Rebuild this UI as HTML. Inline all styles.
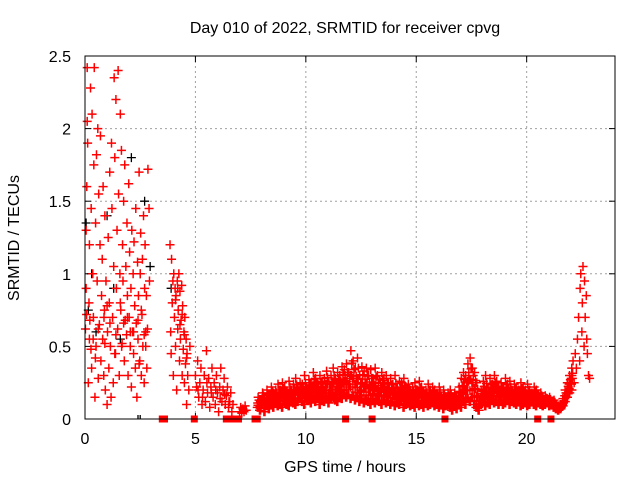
<!DOCTYPE html>
<html><head><meta charset="utf-8"><style>
body{margin:0;background:#fff;}
svg{display:block;font-family:"Liberation Sans",sans-serif;}
</style></head><body>
<svg id="chart" width="640" height="480">
<rect x="0" y="0" width="640" height="480" fill="#fff"/>
<g id="grid"></g>
<g id="ticks"></g>
<g id="pts"></g>
<rect x="85" y="56" width="530" height="363" fill="none" stroke="#000" stroke-width="1"/>
<text x="345" y="33" text-anchor="middle" font-size="16">Day 010 of 2022, SRMTID for receiver cpvg</text>
<text x="345" y="472" text-anchor="middle" font-size="16">GPS time / hours</text>
<text transform="translate(19,238) rotate(-90)" text-anchor="middle" font-size="16">SRMTID / TECUs</text>
</svg>
<script>
const xTicks=[0,5,10,15,20];
const yTicks=[0,0.5,1,1.5,2,2.5];
const yTickLabels=["0","0.5","1","1.5","2","2.5"];
const redT=[0.02,0.05,0.05,0.08,0.1,0.1,0.12,0.15,0.18,0.2,0.2,0.25,0.28,0.3,0.32,0.35,0.38,0.4,0.42,0.45,0.48,0.5,0.52,0.55,0.58,0.6,0.62,0.65,0.68,0.7,0.72,0.75,0.78,0.8,0.82,0.85,0.88,0.9,0.92,0.95,1.0,1.02,1.05,1.08,1.1,1.12,1.15,1.18,1.2,1.22,1.25,1.28,1.3,1.32,1.35,1.38,1.4,1.42,1.45,1.48,1.5,1.52,1.55,1.58,1.6,1.62,1.65,1.68,1.7,1.72,1.75,1.78,1.8,1.82,1.85,1.88,1.9,1.92,1.95,1.98,2.0,2.02,2.05,2.08,2.1,2.12,2.15,2.18,2.2,2.22,2.25,2.28,2.3,2.32,2.35,2.38,2.4,2.42,2.45,2.48,2.5,2.52,2.55,2.58,2.6,2.62,2.65,2.68,2.7,2.72,2.75,2.78,2.8,2.85,2.9,2.92,
0.07,0.22,0.37,0.6,0.86,1.0,1.13,1.4,1.6,1.75,1.92,2.2,2.4,2.55,2.68,2.83,0.27,0.47,0.9,1.35,1.66,2.05,2.45,2.75,
3.85,3.88,3.9,3.92,3.95,3.98,4.0,4.02,4.05,4.08,4.1,4.12,4.15,4.18,4.2,4.22,4.25,4.28,4.3,4.32,4.35,4.38,4.4,4.42,4.45,4.48,4.5,4.52,4.55,4.58,4.6,4.62,4.65,4.7,4.75,4.1,4.2,4.3,4.4,4.5,4.6,
5.0,5.05,5.1,5.15,5.2,5.25,5.3,5.35,5.4,5.45,5.5,5.55,5.6,5.65,5.7,5.75,5.8,5.85,5.9,5.95,6.0,6.05,6.1,6.15,6.2,6.25,6.3,6.35,6.4,6.45,6.5,6.55,6.6,6.65,6.7,5.12,5.32,5.52,5.72,5.92,6.12,6.32,6.52,
7.0,7.05,7.1,7.15,7.2,7.25,7.3,
22.0,22.05,22.1,22.15,22.2,22.25,22.3,22.35,22.4,22.42,22.45,22.5,22.52,22.55,22.6,22.62,22.65,22.7,22.72,22.75,22.8,22.85];
const redV=[0.62,0.9,1.3,1.6,2.05,2.42,1.9,0.25,0.8,1.2,0.55,2.28,1.45,0.35,2.1,1.0,0.7,1.75,2.42,0.15,1.35,0.5,1.82,0.95,2.0,0.28,1.55,0.65,1.2,1.95,0.4,0.85,1.1,0.55,1.6,0.3,0.75,1.4,0.2,0.95,0.1,0.6,1.25,0.35,0.8,1.7,0.5,0.15,1.9,1.45,0.7,0.25,1.05,2.35,1.8,0.45,2.2,0.9,1.3,0.62,2.4,1.55,0.3,1.0,2.1,0.75,1.85,0.52,1.2,0.95,1.5,0.4,1.75,0.68,1.05,0.58,1.35,0.85,0.3,1.62,0.7,1.15,0.5,0.9,0.22,1.3,0.6,1.0,0.45,1.22,0.78,0.35,1.45,0.66,0.15,1.08,0.55,0.85,1.7,0.4,1.0,1.28,0.3,0.72,1.1,0.5,1.4,0.25,0.9,1.2,0.6,0.85,0.35,1.72,1.45,0.95,
0.72,0.68,0.55,0.62,0.7,0.78,0.66,0.58,0.8,0.66,0.7,0.6,0.68,0.75,0.58,0.62,0.48,0.42,0.52,0.45,0.5,0.6,0.38,0.5,
1.2,0.6,0.45,1.1,0.8,0.95,0.3,1.0,0.7,0.9,0.5,0.85,0.2,0.95,0.62,0.75,1.0,0.4,0.88,0.55,0.68,0.92,0.3,0.78,0.48,0.6,0.25,0.7,0.38,0.55,0.1,0.45,0.3,0.2,0.5,0.82,0.9,0.65,0.72,0.58,0.42,
0.3,0.22,0.4,0.15,0.25,0.35,0.1,0.2,0.3,0.12,0.47,0.18,0.28,0.08,0.22,0.35,0.15,0.25,0.1,0.3,0.18,0.05,0.22,0.35,0.12,0.2,0.28,0.1,0.16,0.22,0.08,0.12,0.18,0.05,0.1,0.2,0.15,0.25,0.18,0.2,0.14,0.17,0.12,
0.05,0.08,0.04,0.07,0.05,0.09,0.06,
0.2,0.3,0.4,0.25,0.45,0.35,0.55,0.7,0.4,0.9,1.0,0.6,0.8,1.05,0.5,0.95,0.7,0.85,0.55,0.45,0.3,0.28];
const bandStart=7.8, bandStep=0.1;
const bandLow=[.08,.06,.1,.05,.09,.07,.1,.08,.12,.09,.1,.08,.12,.1,.09,.13,.11,.1,.12,.14,.12,.1,.14,.13,.11,.15,.12,.14,.1,.13,.12,.15,.11,.14,.16,.13,.12,.15,.14,.18,.15,.17,.14,.16,.13,.15,.12,.14,.11,.13,.12,.1,.14,.11,.13,.12,.1,.13,.11,.12,.1,.12,.09,.11,.1,.12,.08,.1,.11,.09,.1,.08,.11,.09,.1,.08,.12,.09,.1,.11,.09,.1,.08,.11,.07,.09,.1,.08,.06,.09,.07,.1,.08,.12,.1,.14,.12,.15,.1,.08,.06,.1,.12,.09,.11,.1,.13,.11,.12,.1,.12,.1,.11,.13,.1,.12,.11,.1,.12,.09,.1,.11,.09,.1,.12,.1,.09,.11,.1,.09,.1,.11,.09,.1,.08,.07,.06,.07,.09,.12,.15,.18,.2];
const bandMid=[.11,.09,.14,.1,.14,.11,.16,.13,.16,.16,.15,.17,.17,.14,.18,.16,.17,.19,.17,.19,.18,.2,.18,.2,.18,.23,.2,.19,.2,.19,.2,.24,.18,.22,.25,.2,.22,.22,.25,.26,.26,.24,.3,.28,.24,.28,.2,.25,.22,.24,.21,.22,.21,.23,.2,.19,.21,.2,.2,.18,.19,.18,.19,.16,.18,.18,.18,.16,.17,.14,.16,.16,.15,.17,.16,.13,.16,.16,.15,.16,.14,.14,.15,.13,.13,.12,.14,.14,.1,.13,.11,.16,.18,.22,.2,.26,.27,.25,.21,.16,.1,.15,.19,.19,.16,.19,.18,.2,.19,.16,.18,.16,.19,.18,.18,.16,.17,.16,.16,.17,.16,.15,.16,.15,.15,.16,.14,.13,.14,.12,.13,.12,.12,.11,.1,.08,.07,.08,.11,.16,.2,.24,.28];
const bandHigh=[.15,.12,.18,.14,.2,.16,.22,.18,.2,.24,.2,.25,.22,.18,.26,.2,.24,.28,.22,.25,.24,.3,.22,.27,.25,.32,.28,.24,.3,.26,.28,.33,.26,.3,.35,.28,.32,.3,.36,.34,.38,.32,.47,.4,.35,.42,.3,.36,.33,.35,.3,.34,.28,.35,.3,.27,.32,.28,.3,.25,.28,.24,.3,.22,.26,.25,.28,.22,.24,.2,.22,.25,.2,.26,.22,.18,.2,.24,.2,.22,.2,.18,.22,.16,.2,.15,.18,.2,.14,.18,.16,.22,.28,.32,.3,.38,.42,.35,.32,.25,.15,.2,.26,.3,.22,.28,.24,.3,.26,.22,.25,.22,.28,.24,.26,.2,.24,.22,.2,.25,.22,.2,.24,.2,.18,.22,.2,.16,.18,.15,.16,.14,.15,.12,.13,.1,.09,.1,.14,.2,.25,.3,.35];
const blackT=[0.05,0.3,0.5,1.0,1.3,2.1,2.5,2.7,3.9,0.15,1.6,2.95];
const blackV=[1.35,1.0,0.6,1.4,0.9,1.8,1.0,1.5,0.9,0.75,0.55,1.05];
const squareT=[3.5,3.6,4.95,6.4,6.7,6.95,7.7,7.8,11.8,13.0,16.3,20.5,21.1];
const baseTickT=[2.4,2.5,17.55];

const NS="http://www.w3.org/2000/svg";
const X0=85,X1=615,Y0=419,Y1=56;
function sx(t){return X0+t/24*(X1-X0);}
function sy(v){return Y0-v/2.5*(Y0-Y1);}
const grid=document.getElementById('grid'),ticks=document.getElementById('ticks'),pts=document.getElementById('pts');
function mk(tag,attrs,parent){const e=document.createElementNS(NS,tag);for(const k in attrs)e.setAttribute(k,attrs[k]);parent.appendChild(e);return e;}
xTicks.forEach(t=>{
  const x=sx(t);
  if(t>0){const g=mk('line',{x1:x,x2:x,y1:Y1,y2:Y0,stroke:'#a0a0a0','stroke-dasharray':'2,3'},grid);
  
  }
  mk('line',{x1:x,x2:x,y1:Y0,y2:Y0-6,stroke:'#000'},ticks);
  mk('line',{x1:x,x2:x,y1:Y1,y2:Y1+6,stroke:'#000'},ticks);
  const l=mk('text',{x:x,y:444,'text-anchor':'middle','font-size':'16'},ticks);
  l.textContent=String(t);
  
  
});
yTicks.forEach((v,i)=>{
  const y=sy(v);
  if(v>0&&v<2.5){const g=mk('line',{x1:X0,x2:X1,y1:y,y2:y,stroke:'#a0a0a0','stroke-dasharray':'2,3'},grid);
  
  }
  mk('line',{x1:X0,x2:X0+6,y1:y,y2:y,stroke:'#000'},ticks);
  mk('line',{x1:X1,x2:X1-6,y1:y,y2:y,stroke:'#000'},ticks);
  const l=mk('text',{x:71,y:y+6,'text-anchor':'end','font-size':'16'},ticks);
  l.textContent=yTickLabels[i];
  
  
});
function plus(t,v){
  const x=sx(t),y=sy(v);
  return 'M'+(x-4.5)+' '+y+'h9M'+x+' '+(y-4.5)+'v9';
}
let dB='';
blackT.forEach((t,i)=>{dB+=plus(t,blackV[i]);});
baseTickT.forEach(t=>{const x=sx(t);dB+='M'+x+' '+(Y0-4)+'v4';});
const pb=mk('path',{d:dB,stroke:'#000','stroke-width':1.3,fill:'none'},pts);


let dR='';
redT.forEach((t,i)=>{dR+=plus(t,redV[i]);});
bandLow.forEach((v,i)=>{const t=bandStart+i*bandStep;
  dR+=plus(t,v)+plus(t+0.05,v)+plus(t+0.02,bandMid[i])+plus(t+0.07,bandMid[i])+plus(t+0.04,bandHigh[i])+plus(t+0.03,(v+bandMid[i])/2)+plus(t+0.08,(bandMid[i]+bandHigh[i])/2);});
const pr=mk('path',{d:dR,stroke:'#ff0000','stroke-width':1.5,fill:'none'},pts);


squareT.forEach(t=>{
  const r=mk('rect',{x:sx(t)-3.5,y:Y0-3.5,width:7,height:7,fill:'#ff0000'},pts);
  
  
});
</script>
</body></html>
